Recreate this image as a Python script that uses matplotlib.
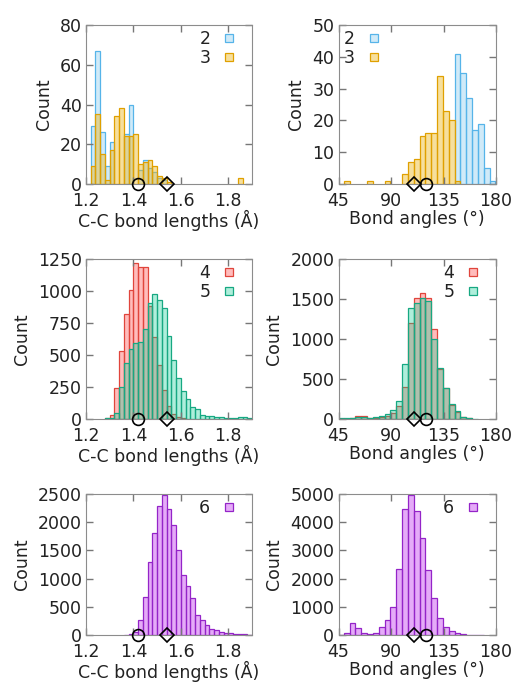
import numpy as np
import matplotlib
matplotlib.use("Agg")
import matplotlib.pyplot as plt
from matplotlib.lines import Line2D

plt.rcParams['font.family'] = ['DejaVu Sans']

# bin edges (left) and counts
len_bins = np.round(np.arange(1.20, 1.90, 0.02), 2)     # width 0.02
ang_bins = np.arange(44.5, 179.6, 5.0)                 # width 5

def fill(bins, d):
    out = np.zeros(len(bins))
    for k, v in d.items():
        out[np.argmin(np.abs(bins - k))] = v
    return out

len2 = fill(len_bins, {1.22: 29, 1.24: 67, 1.26: 26, 1.28: 9, 1.30: 21, 1.36: 25, 1.38: 40,
                       1.42: 7, 1.44: 12, 1.46: 8, 1.48: 6, 1.50: 3, 1.52: 2})
len3 = fill(len_bins, {1.22: 9, 1.24: 35, 1.26: 15, 1.28: 2, 1.30: 17, 1.32: 34, 1.34: 38,
                       1.36: 24, 1.38: 24, 1.40: 25, 1.42: 10, 1.44: 11, 1.46: 12, 1.48: 9,
                       1.50: 4, 1.52: 3, 1.54: 1, 1.84: 3})
len4 = fill(len_bins, {1.28: 5, 1.30: 30, 1.32: 240, 1.34: 530, 1.36: 820, 1.38: 1010,
                       1.40: 1220, 1.42: 1190, 1.44: 1190, 1.46: 880, 1.48: 640, 1.50: 420,
                       1.52: 230, 1.54: 100, 1.56: 40, 1.58: 15, 1.60: 5})
len5 = fill(len_bins, {1.28: 5, 1.30: 10, 1.32: 50, 1.34: 250, 1.36: 440, 1.38: 550, 1.40: 590,
                       1.42: 600, 1.44: 700, 1.46: 905, 1.48: 980, 1.50: 930, 1.52: 870,
                       1.54: 650, 1.56: 460, 1.58: 318, 1.60: 222, 1.62: 156, 1.64: 94,
                       1.66: 76, 1.68: 30, 1.70: 25, 1.72: 20, 1.74: 15, 1.76: 12, 1.78: 10,
                       1.80: 10, 1.82: 8, 1.84: 12, 1.86: 18, 1.88: 10})
len6 = fill(len_bins, {1.36: 5, 1.38: 20, 1.40: 60, 1.42: 267, 1.44: 670, 1.46: 1300,
                       1.48: 1810, 1.50: 2290, 1.52: 2490, 1.54: 2230, 1.56: 1950, 1.58: 1500,
                       1.60: 1060, 1.62: 870, 1.64: 650, 1.66: 355, 1.68: 267, 1.70: 170,
                       1.72: 115, 1.74: 85, 1.76: 60, 1.78: 40, 1.80: 30, 1.82: 20, 1.84: 15,
                       1.86: 10, 1.88: 5})

ang2 = fill(ang_bins, {144.5: 41, 149.5: 35, 154.5: 27, 159.5: 17, 164.5: 19, 169.5: 5, 174.5: 1})
ang3 = fill(ang_bins, {49.5: 1, 69.5: 1, 84.5: 1, 99.5: 3, 104.5: 7, 109.5: 8, 114.5: 15,
                       119.5: 16, 124.5: 16, 129.5: 34, 134.5: 23, 139.5: 20, 144.5: 1})
ang4 = fill(ang_bins, {49.5: 5, 54.5: 10, 59.5: 35, 64.5: 35, 69.5: 10, 74.5: 10, 79.5: 20,
                       84.5: 40, 89.5: 80, 94.5: 160, 99.5: 400, 104.5: 1200, 109.5: 1510,
                       114.5: 1580, 119.5: 1510, 124.5: 1120, 129.5: 630, 134.5: 390,
                       139.5: 180, 144.5: 90, 149.5: 28, 154.5: 10})
ang5 = fill(ang_bins, {44.5: 10, 49.5: 15, 54.5: 15, 59.5: 20, 64.5: 20, 69.5: 15, 74.5: 25,
                       79.5: 40, 84.5: 65, 89.5: 115, 94.5: 230, 99.5: 690, 104.5: 1390,
                       109.5: 1450, 114.5: 1510, 119.5: 1470, 124.5: 1000, 129.5: 640,
                       134.5: 390, 139.5: 190, 144.5: 95, 149.5: 30, 154.5: 12, 159.5: 5})
ang6 = fill(ang_bins, {44.5: 10, 49.5: 80, 54.5: 440, 59.5: 250, 64.5: 70, 69.5: 35, 74.5: 60,
                       79.5: 270, 84.5: 545, 89.5: 1000, 94.5: 2345, 99.5: 4480, 104.5: 4970,
                       109.5: 4380, 114.5: 3440, 119.5: 2310, 124.5: 1300, 129.5: 590,
                       134.5: 296, 139.5: 154, 144.5: 60, 149.5: 30, 154.5: 15, 159.5: 8,
                       164.5: 3})

# reference values marked on the axis
ref_len = {'o': 1.42, 'D': 1.54}
ref_ang = {'D': 109.5, 'o': 120.0}

colors = {
    '2': ('#56B4E9', (0.34, 0.71, 0.91, 0.28)),
    '3': ('#E0A000', (0.93, 0.72, 0.15, 0.45)),
    '4': ('#E0453C', (1.00, 0.25, 0.25, 0.35)),
    '5': ('#17A882', (0.05, 0.80, 0.58, 0.33)),
    '6': ('#9424C8', (0.80, 0.35, 0.95, 0.50)),
}

fig = plt.figure(figsize=(5.15, 6.83), dpi=100)
W, H = 515.0, 683.0

def add_ax(l, r, t, b):
    return fig.add_axes([l / W, 1 - b / H, (r - l) / W, (b - t) / H])

panels = [
    (86, 252, 25, 184, 'len', [('2', len2), ('3', len3)], [0, 20, 40, 60, 80], 'upper right'),
    (338.5, 496, 25, 184, 'ang', [('2', ang2), ('3', ang3)], [0, 10, 20, 30, 40, 50], 'upper left'),
    (86, 252, 259, 419, 'len', [('4', len4), ('5', len5)], [0, 250, 500, 750, 1000, 1250], 'upper right'),
    (338.5, 496, 259, 419, 'ang', [('4', ang4), ('5', ang5)], [0, 500, 1000, 1500, 2000], 'upper right'),
    (86, 252, 494, 635, 'len', [('6', len6)], [0, 500, 1000, 1500, 2000, 2500], 'upper right'),
    (338.5, 496, 494, 635, 'ang', [('6', ang6)], [0, 1000, 2000, 3000, 4000, 5000], 'upper right'),
]

fs = 12.5
for l, r, t, b, kind, series, yt, loc in panels:
    ax = add_ax(l, r, t, b)
    if kind == 'len':
        bins, bw = len_bins, 0.02
        ax.set_xlim(1.2, 1.9)
        ax.set_xticks([1.2, 1.4, 1.6, 1.8])
        ax.set_xticklabels(['1.2', '1.4', '1.6', '1.8'])
        ax.set_xlabel('C-C bond lengths (Å)', fontsize=fs, labelpad=0, color='#222222')
        refs = ref_len
    else:
        bins, bw = ang_bins, 5.0
        ax.set_xlim(45, 180)
        ax.set_xticks([45, 90, 135, 180])
        ax.set_xlabel('Bond angles (°)', fontsize=fs, labelpad=0, color='#222222')
        refs = ref_ang
    handles = []
    for name, counts in series:
        ec, fc = colors[name]
        m = counts > 0
        ax.bar(bins[m], counts[m], width=bw, align='edge', color=fc, edgecolor=ec, linewidth=0.9)
        handles.append(Line2D([], [], marker='s', ls='none', ms=5.5, mfc=fc, mec=ec, mew=0.9, label=name))
    ax.set_ylim(0, yt[-1])
    ax.set_yticks(yt)
    ax.set_ylabel('Count', fontsize=fs, labelpad=5, color='#222222')
    for mk, v in refs.items():
        ax.plot([v], [0], marker=mk, ls='none', mfc='none', mec='black', mew=1.2,
                ms=8.5 if mk == 'o' else 7, clip_on=False, zorder=6)
    leg = ax.legend(handles=handles, loc=loc, markerfirst=False, frameon=False, fontsize=fs,
                    handletextpad=0.1, labelspacing=0.05, borderaxespad=0.15, handlelength=2.0,
                    borderpad=0.15)
    for txt in leg.get_texts():
        txt.set_color('#222222')
    for s in ax.spines.values():
        s.set_color('#8c8c8c')
    ax.tick_params(direction='in', top=True, right=True, length=5, width=1, color='#777777',
                   labelsize=fs, labelcolor='#222222')
    ax.tick_params(axis='x', pad=6)
    ax.tick_params(axis='y', pad=3)

fig.savefig('out.png', dpi=100)
